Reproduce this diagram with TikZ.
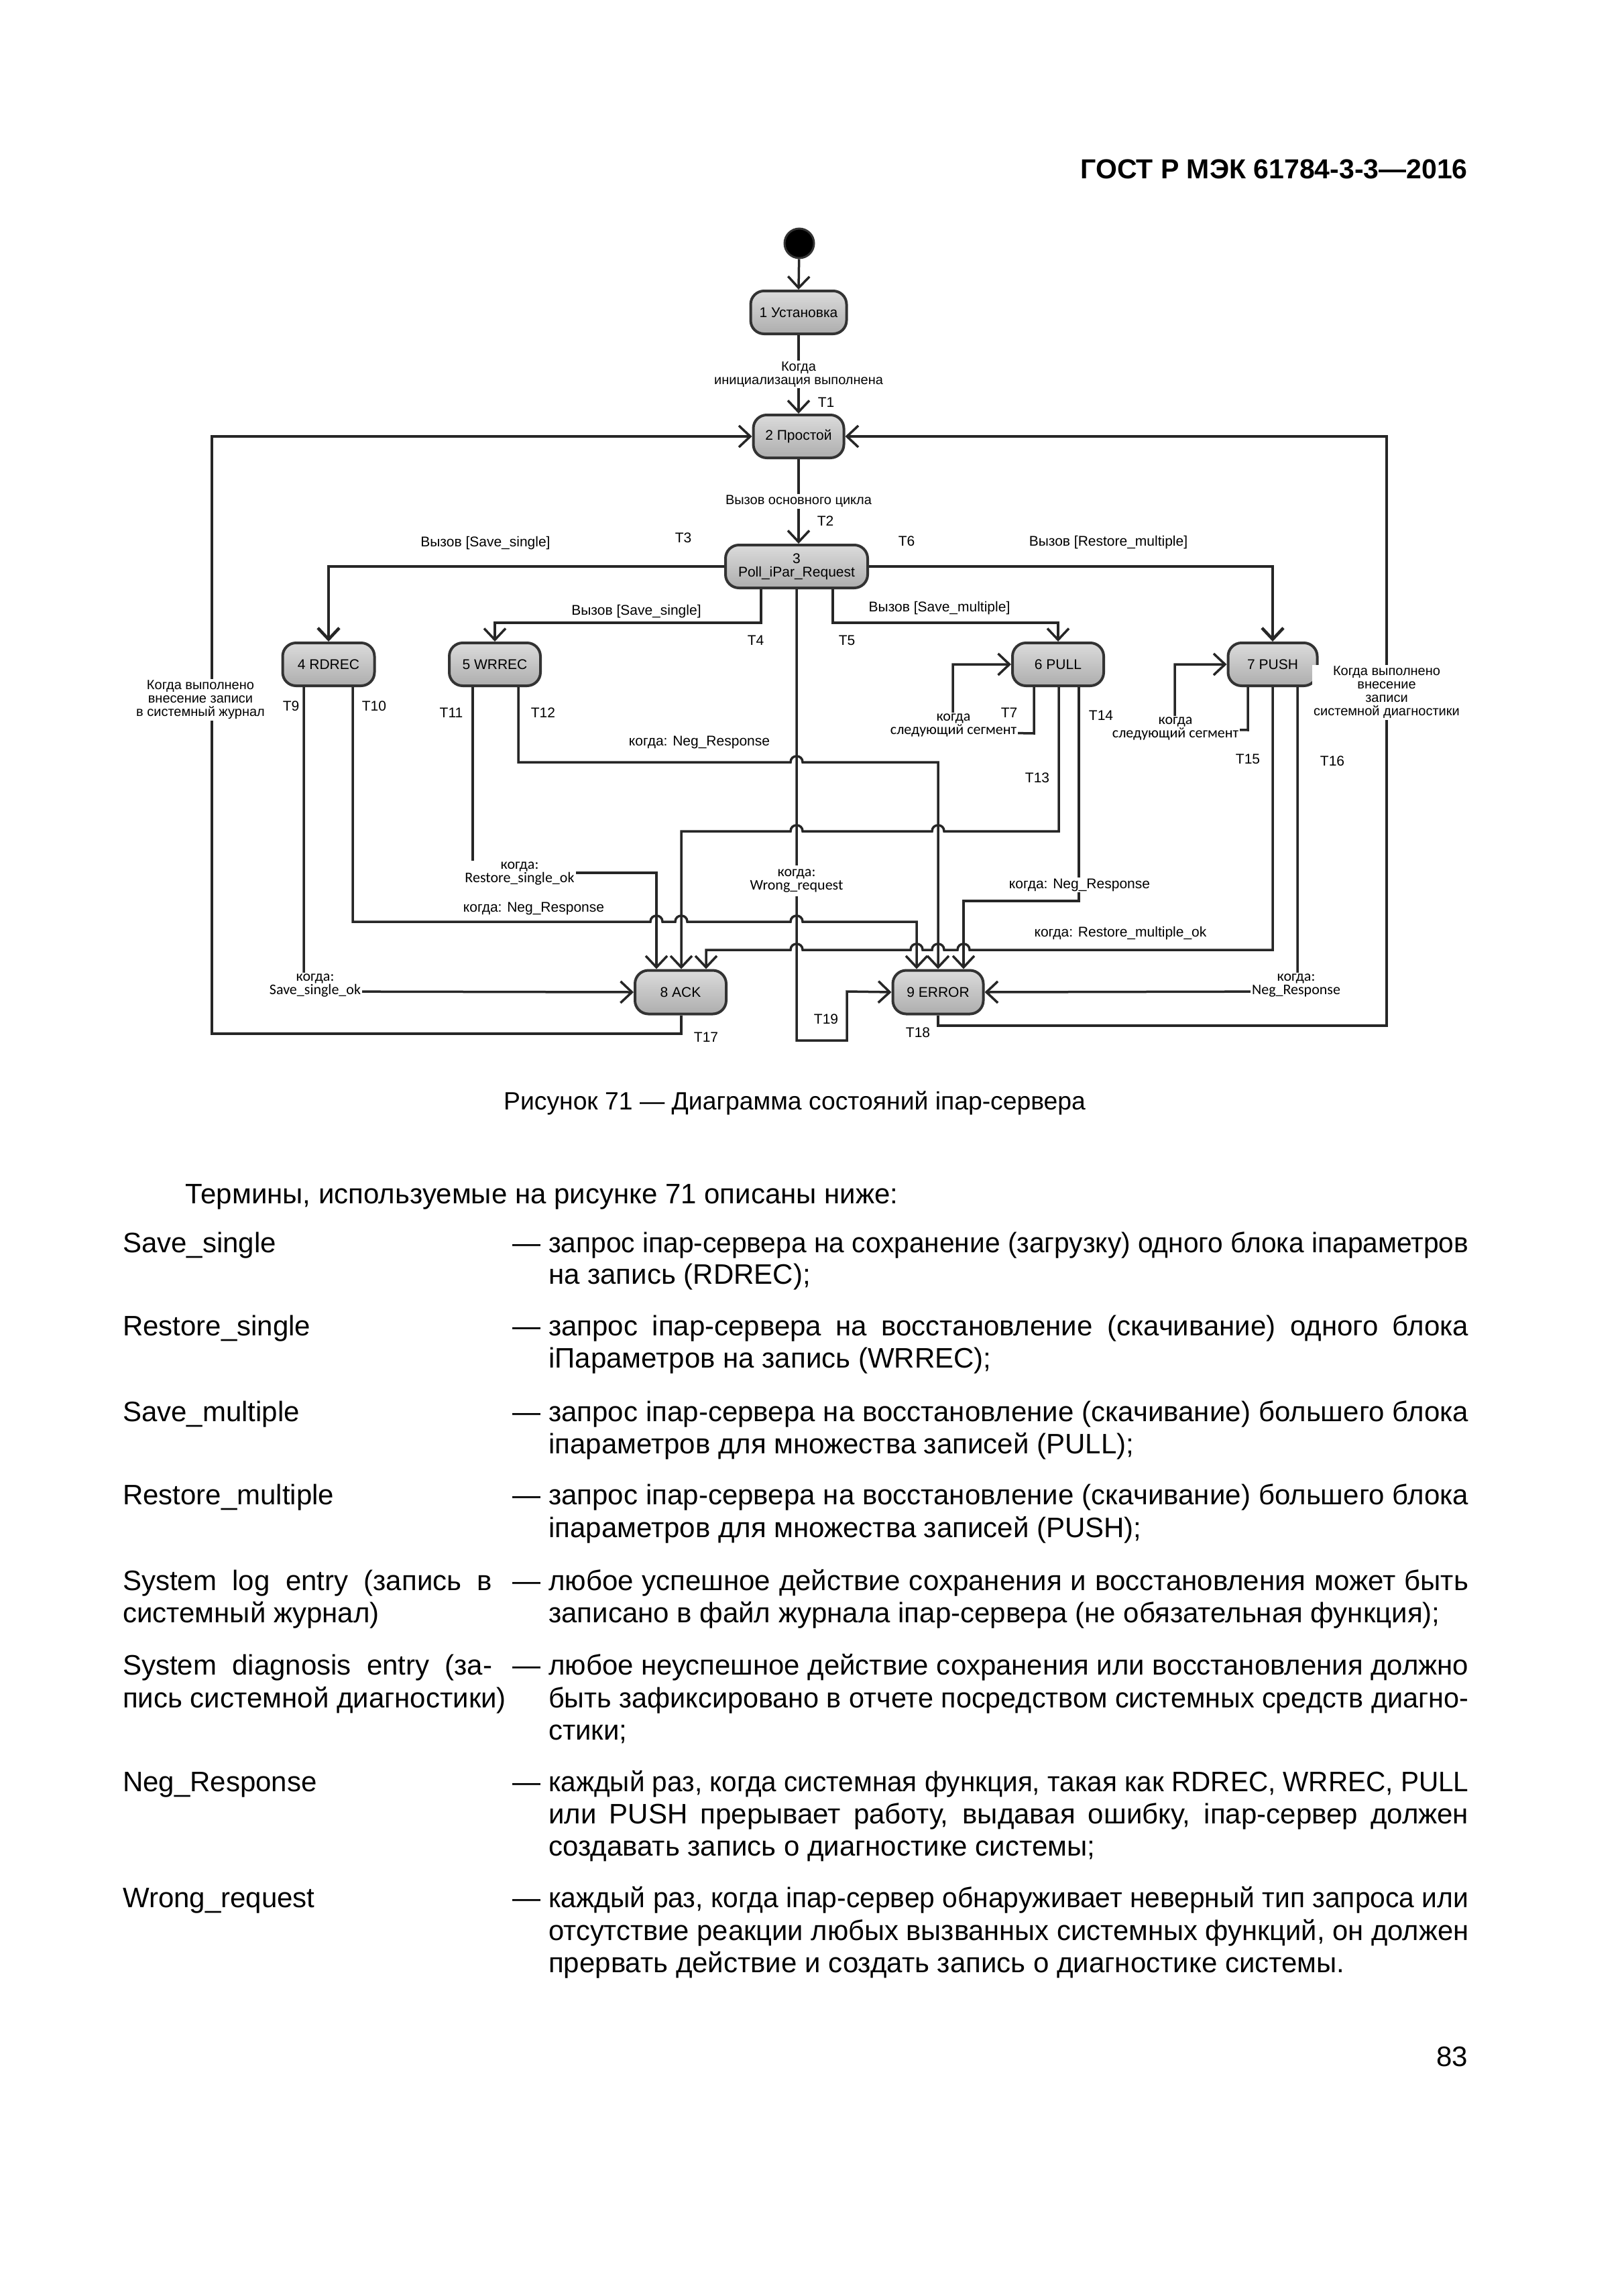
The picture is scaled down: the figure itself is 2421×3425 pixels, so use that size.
\documentclass[tikz,border=0pt]{standalone}
\usepackage{fontspec}
\usepackage{graphicx}
\setmainfont{Liberation Sans}
\newfontfamily\calfont{Carlito}
\usetikzlibrary{arrows.meta,calc}
\newcommand\fsz[2]{\fontsize{#1pt}{#2pt}\selectfont}
\newsavebox\jbox
\newcommand\jline[2]{\sbox\jbox{#2}\ifdim\wd\jbox>#1pt\relax\resizebox{#1pt}{\ht\jbox}{\usebox\jbox}\else\hbox to #1pt{#2}\fi}
\newcommand\hdash{\llap{—\hspace{12pt}}}
\begin{document}
\begin{tikzpicture}[x=1pt,y=-1pt,
  state/.style={draw=black!80, line width=4pt, rounded corners=20pt, top color=black!14, bottom color=black!32, inner sep=0pt, minimum height=64pt, align=center, font=\fsz{21}{20}},
  conn/.style={draw=black!85, line width=3.5pt},
  arr/.style={-{Straight Barb[length=17pt,width=32pt]}},
  lbl/.style={font=\fsz{21}{20}, inner sep=0pt, align=center},
  clbl/.style={font=\calfont\fsz{22}{20}, inner sep=2pt, align=center, fill=white},
  slbl/.style={font=\fsz{20}{20}, inner sep=2pt, align=center, fill=white},
  tl/.style={font=\fsz{21}{21}, inner sep=0pt},
  body/.style={font=\fsz{42}{48.3}, inner sep=0pt, anchor=base west},
]
\path[use as bounding box, fill=white] (0,0) rectangle (2421,3425);

% ---------------- states
\node[circle, fill=black, draw=black!80, line width=3pt, minimum size=44pt, inner sep=0pt] (init) at (1192,363) {};
\node[state, minimum width=143pt] (n1) at (1191,466) {1 Установка};
\node[state, minimum width=135pt] (n2) at (1191,651) {2 Простой};
\node[state, minimum width=212pt] (n3) at (1188,845) {3\\Poll\_iPar\_Request};
\node[state, minimum width=137pt] (n4) at (490,991) {4 RDREC};
\node[state, minimum width=136pt] (n5) at (738,991) {5 WRREC};
\node[state, minimum width=136pt] (n6) at (1578,991) {6 PULL};
\node[state, minimum width=133pt] (n7) at (1898,991) {7 PUSH};
\node[state, minimum width=136pt, minimum height=65pt] (n8) at (1015,1480) {8 ACK};
\node[state, minimum width=135pt, minimum height=65pt] (n9) at (1399,1480) {9 ERROR};

% ---------------- connectors
\draw[conn,arr] (init) -- (n1.north);
\draw[conn,arr] (n1.south) -- node[slbl] (l1) {Когда\\инициализация выполнена} (n2.north);
\draw[conn,arr] (n2.south) -- node[slbl] (l2) {Вызов основного цикла} (n2.south |- n3.north);
% T3, T6
\draw[conn,arr,line width=4.5pt] (n3.west) -| (n4.north);
\draw[conn,arr,line width=4.5pt] (n3.east) -| (n7.north);
% T4, T5
\draw[conn,arr] ([xshift=-53pt]n3.south) -- ++(0,50) -| (n5.north);
\draw[conn,arr] ([xshift=54pt]n3.south) -- ++(0,50) -| (n6.north);
% self loops T7 and PUSH
\draw[conn,arr] ([xshift=-36pt]n6.south) -- ++(0,69) -- (1421,1092) -- (1421,991) -- (n6.west);
\draw[conn,arr] ([xshift=-37pt]n7.south) -- ++(0,64) -- (1752,1087) -- (1752,991) -- (n7.west);
% Wrong_request (T19)
\draw[conn,arr] (n3.south) -- (1188,1552) -- (1263,1552) -- (1263,1479) -- (n9.west);
% T9
\draw[conn,arr] ([xshift=-37pt]n4.south) -- (453,1479) -- (n8.west);
% T11
\draw[conn,arr] ([xshift=-33pt]n5.south) -- (705,1302) -- (979,1302) -- ([xshift=-36pt]n8.north);
% T10
\draw[conn,arr] ([xshift=36pt]n4.south) -- (526,1375) -- (970,1375)
  .. controls (970,1363) and (988,1363) .. (988,1375) -- (1007,1375)
  .. controls (1007,1363) and (1025,1363) .. (1025,1375) -- (1179,1375)
  .. controls (1179,1363) and (1197,1363) .. (1197,1375) -- (1367,1375) -- ([xshift=-32pt]n9.north);
% T12
\draw[conn,arr] ([xshift=35pt]n5.south) -- (773,1137) -- (1179,1137)
  .. controls (1179,1125) and (1197,1125) .. (1197,1137) -- (1399,1137) -- (n9.north);
% T13
\draw[conn,arr] ([xshift=1pt]n6.south) -- (1579,1240) -- (1408,1240)
  .. controls (1408,1228) and (1390,1228) .. (1390,1240) -- (1197,1240)
  .. controls (1197,1228) and (1179,1228) .. (1179,1240) -- (1016,1240) -- ([xshift=1pt]n8.north);
% T14
\draw[conn,arr] ([xshift=31pt]n6.south) -- (1609,1344) -- (1437,1344) -- ([xshift=38pt]n9.north);
% T15
\draw[conn,arr] (n7.south) -- (1898,1417) -- (1446,1417)
  .. controls (1446,1405) and (1428,1405) .. (1428,1417) -- (1408,1417)
  .. controls (1408,1405) and (1390,1405) .. (1390,1417) -- (1376,1417)
  .. controls (1376,1405) and (1358,1405) .. (1358,1417) -- (1197,1417)
  .. controls (1197,1405) and (1179,1405) .. (1179,1417) -- (1053,1417) -- ([xshift=38pt]n8.north);
% T16
\draw[conn,arr] ([xshift=37pt]n7.south) -- (1935,1479) -- (n9.east);
% T17
\draw[conn,arr] ([xshift=1pt]n8.south) -- (1016,1542) -- (316,1542) -- (316,651) -- (n2.west);
% T18
\draw[conn,arr] (n9.south) -- (1399,1530) -- (2068,1530) -- (2068,651) -- (n2.east);

% ---------------- labels on connectors
\node[lbl] (lv3) at (724,810) {Вызов [Save\_single]};
\node[lbl] (lv4) at (949,912) {Вызов [Save\_single]};
\node[lbl] (lv5) at (1401,907) {Вызов [Save\_multiple]};
\node[lbl] (lv6) at (1653,809) {Вызов [Restore\_multiple]};
\node[clbl] (lc7) at (1422,1082) {когда\\следующий сегмент};
\node[clbl] (lc15) at (1753,1087) {когда\\следующий сегмент};
\node[lbl] (ln12) at (1043,1107) {когда: Neg\_Response};
\node[lbl] (ln10) at (796,1355) {когда: Neg\_Response};
\node[lbl, fill=white, inner sep=2pt] (ln14) at (1610,1320) {когда: Neg\_Response};
\node[lbl] (lrm) at (1671,1392) {когда: Restore\_multiple\_ok};
\node[clbl] (lrs) at (775,1303) {когда:\\Restore\_single\_ok};
\node[clbl, inner ysep=6pt] (lwr) at (1188,1314) {когда:\\Wrong\_request};
\node[clbl] (lss) at (470,1470) {когда:\\Save\_single\_ok};
\node[clbl] (lnr) at (1933,1470) {когда:\\Neg\_Response};
\node[slbl] (lsys) at (299,1044) {Когда выполнено\\внесение записи\\в системный журнал};
\node[slbl] (ldiag) at (2068,1033) {Когда выполнено\\внесение\\записи\\системной диагностики};

\node[tl] (t1) at (1232,600) {T1};
\node[tl] (t2) at (1231,777) {T2};
\node[tl] (t3) at (1019,802) {T3};
\node[tl] (t4) at (1127,955) {T4};
\node[tl] (t5) at (1263,955) {T5};
\node[tl] (t6) at (1352,807) {T6};
\node[tl] (t7) at (1505,1063) {T7};
\node[tl] (t9) at (434,1053) {T9};
\node[tl] (t10) at (558,1053) {T10};
\node[tl] (t11) at (673,1063) {T11};
\node[tl] (t12) at (810,1063) {T12};
\node[tl] (t13) at (1547,1160) {T13};
\node[tl] (t14) at (1642,1067) {T14};
\node[tl] (t15) at (1861,1132) {T15};
\node[tl] (t16) at (1987,1135) {T16};
\node[tl] (t17) at (1053,1547) {T17};
\node[tl] (t18) at (1369,1540) {T18};
\node[tl] (t19) at (1232,1520) {T19};

% ---------------- page text
\node[font=\bfseries\fsz{41}{44}, anchor=base east, inner sep=0pt] (hdr) at (2189,267) {ГОСТ Р МЭК 61784-3-3—2016};
\node[font=\fsz{37.3}{44}, anchor=base, inner sep=0pt] (cap) at (1185,1655) {Рисунок 71 — Диаграмма состояний iпар-сервера};
\node[body] (intro) at (276,1795) {Термины, используемые на рисунке 71 описаны ниже:};

\node[body] (k1) at (183,1868) {Save\_single};
\node[body] (d1a) at (818,1868) {\hdash\jline{1372}{запрос iпар-сервера на сохранение (загрузку) одного блока iпараметров}};
\node[body] (d1b) at (818,1915) {на запись (RDREC);};

\node[body] (k2) at (183,1992) {Restore\_single};
\node[body] (d2a) at (818,1992) {\hdash\jline{1372}{запрос iпар-сервера на восстановление (скачивание) одного блока}};
\node[body] (d2b) at (818,2040) {iПараметров на запись (WRREC);};

\node[body] (k3) at (183,2120) {Save\_multiple};
\node[body] (d3a) at (818,2120) {\hdash\jline{1372}{запрос iпар-сервера на восстановление (скачивание) большего блока}};
\node[body] (d3b) at (818,2168) {iпараметров для множества записей (PULL);};

\node[body] (k4) at (183,2244) {Restore\_multiple};
\node[body] (d4a) at (818,2244) {\hdash\jline{1372}{запрос iпар-сервера на восстановление (скачивание) большего блока}};
\node[body] (d4b) at (818,2293) {iпараметров для множества записей (PUSH);};

\node[body] (k5a) at (183,2372) {\jline{551}{System log entry (запись в}};
\node[body] (k5b) at (183,2420) {системный журнал)};
\node[body] (d5a) at (818,2372) {\hdash\jline{1372}{любое успешное действие сохранения и восстановления может быть}};
\node[body] (d5b) at (818,2420) {записано в файл журнала iпар-сервера (не обязательная функция);};

\node[body] (k6a) at (183,2498) {\jline{551}{System diagnosis entry (за-}};
\node[body] (k6b) at (183,2547) {пись системной диагностики)};
\node[body] (d6a) at (818,2498) {\hdash\jline{1372}{любое неуспешное действие сохранения или восстановления должно}};
\node[body] (d6b) at (818,2547) {\jline{1372}{быть зафиксировано в отчете посредством системных средств диагно-}};
\node[body] (d6c) at (818,2595) {стики;};

\node[body] (k7) at (183,2672) {Neg\_Response};
\node[body] (d7a) at (818,2672) {\hdash\jline{1372}{каждый раз, когда системная функция, такая как RDREC, WRREC, PULL}};
\node[body] (d7b) at (818,2720) {\jline{1372}{или PUSH прерывает работу, выдавая ошибку, iпар-сервер должен}};
\node[body] (d7c) at (818,2768) {создавать запись о диагностике системы;};

\node[body] (k8) at (183,2845) {Wrong\_request};
\node[body] (d8a) at (818,2845) {\hdash\jline{1372}{каждый раз, когда iпар-сервер обнаруживает неверный тип запроса или}};
\node[body] (d8b) at (818,2894) {\jline{1372}{отсутствие реакции любых вызванных системных функций, он должен}};
\node[body] (d8c) at (818,2942) {прервать действие и создать запись о диагностике системы.};

\node[font=\fsz{42}{48}, anchor=base east, inner sep=0pt] (pg) at (2189,3082) {83};
\end{tikzpicture}
\end{document}
